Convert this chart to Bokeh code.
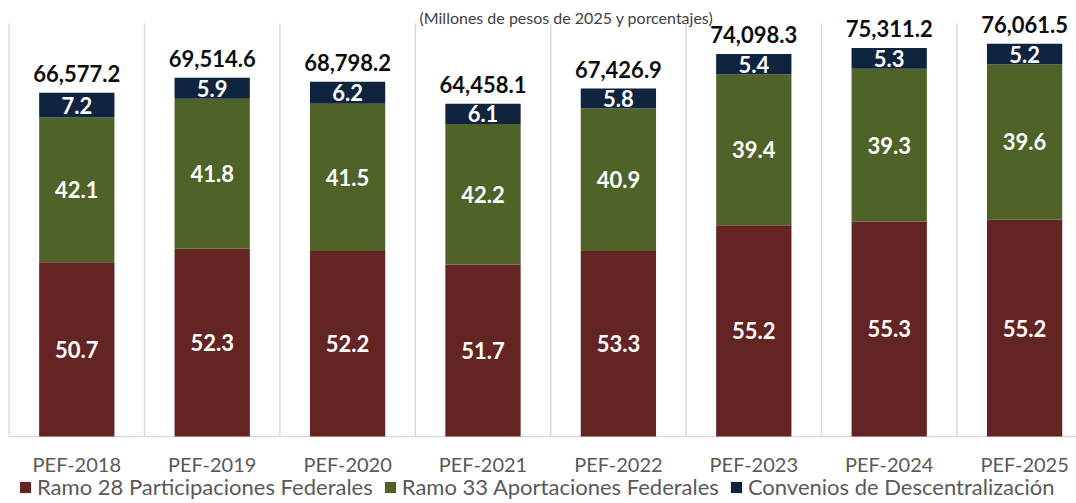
from bokeh.plotting import figure
from bokeh.models import ColumnDataSource, Range1d, Legend, LegendItem, Label
from bokeh.core.properties import value
from bokeh.embed import file_html
from bokeh.resources import INLINE

categories = ["PEF-2018", "PEF-2019", "PEF-2020", "PEF-2021", "PEF-2022", "PEF-2023", "PEF-2024", "PEF-2025"]
totals = [66577.2, 69514.6, 68798.2, 64458.1, 67426.9, 74098.3, 75311.2, 76061.5]
ramo28_pct = [50.7, 52.3, 52.2, 51.7, 53.3, 55.2, 55.3, 55.2]
ramo33_pct = [42.1, 41.8, 41.5, 42.2, 40.9, 39.4, 39.3, 39.6]
convenios_pct = [7.2, 5.9, 6.2, 6.1, 5.8, 5.4, 5.3, 5.2]
series_names = ["Ramo 28 Participaciones Federales", "Ramo 33 Aportaciones Federales", "Convenios de Descentralización"]
subtitle = "(Millones de pesos de 2025 y porcentajes)"
axis_max = 80000

colors = ["#632423", "#4F6228", "#0F243E"]
FONT = "Lato"
W, H = 1076, 503
left_px, top_px, base_px = 8.6, 23, 436   # plot-area edges in the reference
cat_px = 135.4
unit_px = (base_px - top_px) / axis_max

n = len(categories)
x = [i + 0.5 for i in range(n)]
r28 = [t * p / 100 for t, p in zip(totals, ramo28_pct)]
r33 = [t * p / 100 for t, p in zip(totals, ramo33_pct)]
conv = [t * p / 100 for t, p in zip(totals, convenios_pct)]

src = ColumnDataSource(dict(x=x, r28=r28, r33=r33, conv=conv, total=totals, cat=categories,
                            zero=[0] * n,
                            total_lbl=[f"{t:,.1f}" for t in totals],
                            y28=[a / 2 for a in r28],
                            y33=[a + b / 2 for a, b in zip(r28, r33)],
                            yc=[a + b + c / 2 for a, b, c in zip(r28, r33, conv)],
                            l28=[f"{v:.1f}" for v in ramo28_pct],
                            l33=[f"{v:.1f}" for v in ramo33_pct],
                            lc=[f"{v:.1f}" for v in convenios_pct]))

p = figure(width=W, height=H, output_backend="svg", toolbar_location=None,
           x_range=Range1d(-left_px / cat_px, (W - left_px) / cat_px),
           y_range=Range1d(-(H - base_px) / unit_px, base_px / unit_px),
           min_border=0)
p.outline_line_color = None
p.background_fill_color = "white"
p.xaxis.visible = False
p.yaxis.visible = False
p.xgrid.visible = False
p.ygrid.visible = False

bounds = list(range(n + 1))
p.segment(x0=bounds, y0=[0] * (n + 1), x1=bounds, y1=[axis_max] * (n + 1),
          line_color="#D9D9D9", line_width=1.5)
p.segment(x0=[0], y0=[0], x1=[n], y1=[0], line_color="#D9D9D9", line_width=1.5)

rs = p.vbar_stack(["r28", "r33", "conv"], x="x", width=0.556, source=src,
                  color=colors, line_color=None)

common = dict(source=src, text_font=value(FONT), text_font_style="bold",
              text_align="center", text_baseline="middle", text_font_size="22px")
p.text(x="x", y="y28", text="l28", text_color="white", **common)
p.text(x="x", y="y33", text="l33", text_color="white", **common)
p.text(x="x", y="yc", text="lc", text_color="white", **common)
p.text(x="x", y="total", text="total_lbl", text_color="#0D0D0D", source=src,
       text_font=value(FONT), text_font_style="bold", text_align="center",
       text_baseline="alphabetic", text_font_size="22px", y_offset=-19)

# category labels
p.text(x="x", y="zero", text="cat", source=src, text_font=value(FONT), text_font_size="20px",
       text_color="#595959", text_align="center", text_baseline="top", y_offset=15)

p.add_layout(Label(x=(566 - left_px) / cat_px, y=(base_px - 17) / unit_px, text=subtitle,
                   text_font=FONT, text_font_size="16px", text_color="#404040",
                   text_align="center", text_baseline="alphabetic"))

legend = Legend(items=[LegendItem(label=nm, renderers=[r]) for nm, r in zip(series_names, rs)],
                orientation="horizontal", location=(18, 3),
                label_text_font=FONT, label_text_font_size="22px", label_text_color="#595959",
                glyph_width=14, glyph_height=14, label_standoff=5, spacing=10,
                padding=0, margin=0, border_line_color=None, background_fill_alpha=0)
p.add_layout(legend, "center")

open("out.html", "w").write(file_html(p, INLINE))
